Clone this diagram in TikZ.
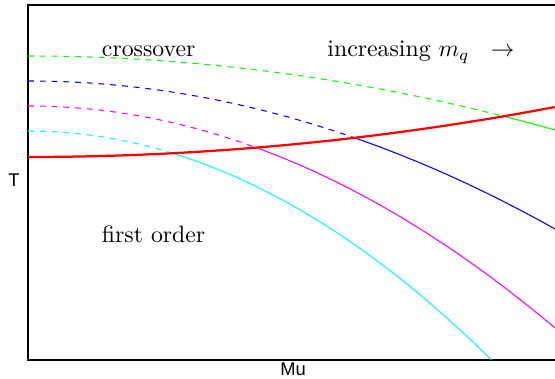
\documentclass[tikz,border=0pt]{standalone}
\usepackage{fontspec}
\newfontfamily\axfont{Liberation Sans}
\definecolor{pgreen}{RGB}{0,255,0}
\definecolor{pblue}{RGB}{0,0,255}
\definecolor{pmag}{RGB}{255,0,255}
\definecolor{pcyan}{RGB}{0,255,255}
\definecolor{pred}{RGB}{255,0,0}
\tikzset{
  frameline/.style={line width=0.5pt, black},
  thin/.style={line width=0.45pt},
  dashline/.style={line width=0.45pt, dash pattern=on 2.5pt off 2.5pt},
  redline/.style={line width=0.95pt, pred},
  lbl/.style={anchor=base west, inner sep=0pt, font=\fontsize{10.1}{12}\selectfont},
  axlbl/.style={anchor=center, inner sep=0pt, font=\axfont\fontsize{7.8}{9}\selectfont},
}
\begin{document}
\begin{tikzpicture}[x=0.425pt, y=-0.425pt]
\useasboundingbox (0,0) rectangle (555,379);
% frame
\draw[frameline] (556,5) -- (28,5) -- (28,360) -- (556,360);
% green
\draw[dashline, pgreen] plot[domain=0:0.9025, samples=60] ({28+527*\x},{56+74*\x*\x});
\draw[thin, pgreen] plot[domain=0.9025:1, samples=20] ({28+527*\x},{56+74*\x*\x});
% blue
\draw[dashline, pblue] plot[domain=0:0.6195, samples=60] ({28+527*\x},{81+148*\x*\x});
\draw[thin, pblue] plot[domain=0.6195:1, samples=40] ({28+527*\x},{81+148*\x*\x});
% magenta
\draw[dashline, pmag] plot[domain=0:0.433, samples=50] ({28+527*\x},{106+222*\x*\x});
\draw[thin, pmag] plot[domain=0.433:1, samples=60] ({28+527*\x},{106+222*\x*\x});
% cyan
\draw[dashline, pcyan] plot[domain=0:0.274, samples=40] ({28+527*\x},{131+296*\x*\x});
\draw[thin, pcyan] plot[domain=0.274:0.8796, samples=60] ({28+527*\x},{131+296*\x*\x});
% red
\draw[redline] plot[domain=0:1, samples=80] ({28+527*\x},{157-50*\x*\x});
% labels
\node[lbl] (cross) at (101.5,56.7) {crossover};
\node[lbl] (incr) at (327,56.7) {increasing $m_q$\hspace{9pt}$\rightarrow$};
\node[lbl] (first) at (101.5,243) {first order};
\node[axlbl] (ylab) at (14,180.5) {T};
\node[axlbl] (xlab) at (293,369) {Mu};
\end{tikzpicture}
\end{document}
